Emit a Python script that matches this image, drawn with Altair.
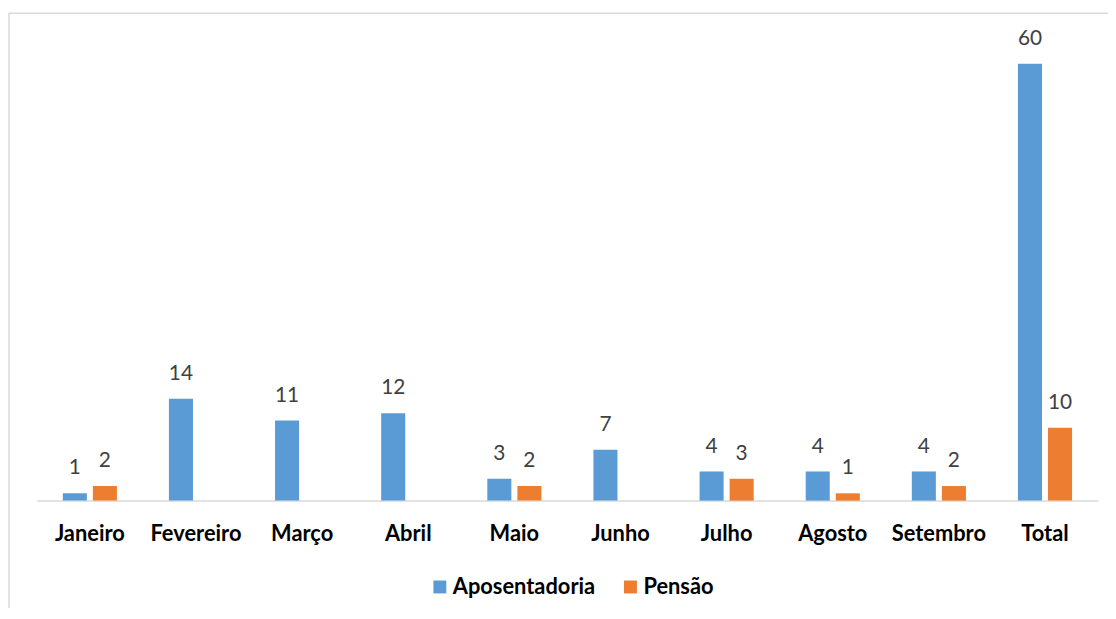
import altair as alt
import pandas as pd

meses = ["Janeiro", "Fevereiro", "Março", "Abril", "Maio", "Junho", "Julho", "Agosto", "Setembro", "Total"]
aposentadoria = [1, 14, 11, 12, 3, 7, 4, 4, 4, 60]
pensao = [2, None, None, None, 2, None, 3, 1, 2, 10]
series = ["Aposentadoria", "Pensão"]
cores = ["#5B9BD5", "#ED7D31"]

rows = []
for m, a, p in zip(meses, aposentadoria, pensao):
    if a is not None:
        rows.append({"Mes": m, "Serie": series[0], "Valor": a})
    if p is not None:
        rows.append({"Mes": m, "Serie": series[1], "Valor": p})
df = pd.DataFrame(rows)

FONT = "Lato"

x = alt.X("Mes:N", sort=meses,
          scale=alt.Scale(paddingInner=0.49, paddingOuter=0.245),
          axis=alt.Axis(title=None, labelAngle=0, ticks=False, labelPadding=23,
                        labelFont=FONT, labelFontSize=22, labelFontWeight="bold",
                        labelColor="#000000", domainColor="#d9d9d9", domainWidth=1.5,
                        grid=False))
xoff = alt.XOffset("Serie:N", sort=series, scale=alt.Scale(paddingInner=0.2, paddingOuter=0))
y = alt.Y("Valor:Q", scale=alt.Scale(domain=[0, 60], nice=False), axis=None)

bars = alt.Chart(df).mark_bar().encode(
    x=x, xOffset=xoff, y=y,
    color=alt.Color("Serie:N", sort=series,
                    scale=alt.Scale(domain=series, range=cores),
                    legend=alt.Legend(title=None, orient="none", direction="horizontal",
                                      legendX=395, legendY=516, symbolType="square",
                                      symbolSize=169, symbolStrokeWidth=0,
                                      labelFont=FONT, labelFontSize=22, labelFontWeight="bold",
                                      labelColor="#000000", labelOffset=2, columnPadding=24,
                                      padding=0)),
)

labels = alt.Chart(df).mark_text(font=FONT, fontSize=21, color="#404040",
                                 baseline="alphabetic", dy=-19).encode(
    x=x, xOffset=xoff, y=y, text=alt.Text("Valor:Q")
)

border = alt.Chart(pd.DataFrame({"b": [0]})).mark_rect(
    fill=None, stroke="#d9d9d9", strokeWidth=1.5
).encode(x=alt.value(-28), x2=alt.value(1090), y=alt.value(-51), y2=alt.value(600))

chart = alt.layer(border, bars, labels).properties(
    width=1069, height=440,
    autosize=alt.AutoSizeParams(type="none"),
    padding={"left": 29, "top": 54, "right": 10, "bottom": 106},
).configure_view(stroke=None)

chart.save("out.html", embed_options={"renderer": "svg", "actions": False})
